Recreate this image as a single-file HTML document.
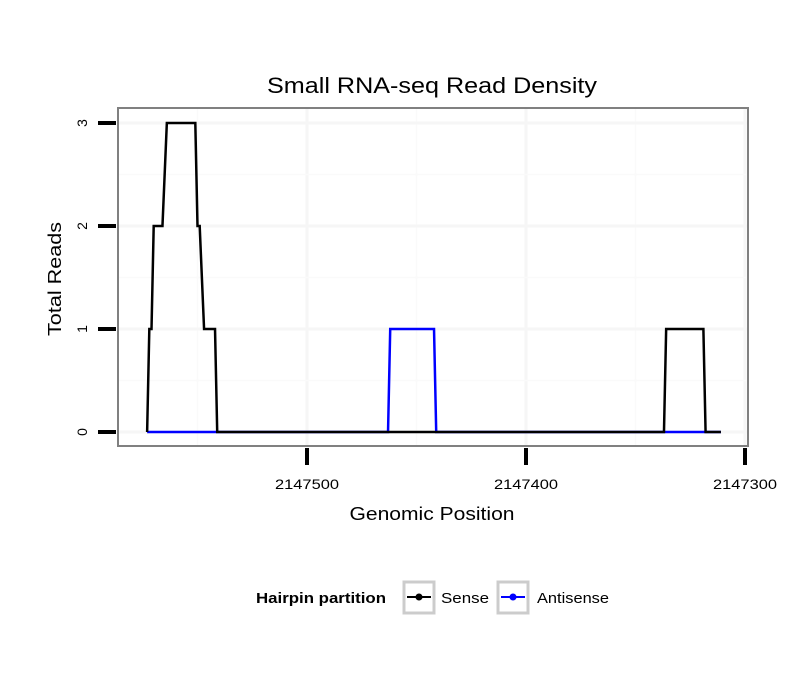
<!DOCTYPE html>
<html><head><meta charset="utf-8"><style>
body{margin:0;background:#fff;}
svg text{font-family:"Liberation Sans",sans-serif;}
</style></head><body>
<svg width="810" height="690" id="c">
<rect width="810" height="690" fill="#fff"/>
<text x="432" y="93" font-size="22" text-anchor="middle" textLength="330" lengthAdjust="spacingAndGlyphs">Small RNA-seq Read Density</text>
<g id="grid"></g>
<rect x="118" y="108" width="630" height="338" fill="none" stroke="#808080" stroke-width="2"/>
<g id="series"></g>
<g id="axes"></g>
<text x="432" y="520" font-size="18" text-anchor="middle" textLength="165" lengthAdjust="spacingAndGlyphs">Genomic Position</text>
<text transform="translate(61,279) rotate(-90)" font-size="18" text-anchor="middle" textLength="114" lengthAdjust="spacingAndGlyphs">Total Reads</text>
<g>
<text x="256" y="603" font-size="15" font-weight="bold" textLength="130" lengthAdjust="spacingAndGlyphs">Hairpin partition</text>
<g>
<rect x="404" y="582" width="30" height="31" fill="#fff" stroke="#ccc" stroke-width="3"/>
<line x1="407" y1="597" x2="431" y2="597" stroke="#000" stroke-width="2"/><circle cx="419" cy="597" r="3.5" fill="#000"/>
<text x="441" y="603" font-size="15" textLength="48" lengthAdjust="spacingAndGlyphs">Sense</text></g>
<g>
<rect x="498" y="582" width="30" height="31" fill="#fff" stroke="#ccc" stroke-width="3"/>
<line x1="501" y1="597" x2="525" y2="597" stroke="#00f" stroke-width="2"/><circle cx="513" cy="597" r="3.5" fill="#00f"/>
<text x="537" y="603" font-size="15" textLength="72" lengthAdjust="spacingAndGlyphs">Antisense</text></g>
</g>
</svg>
<script>
const senseX=[2147573,2147572,2147571,2147570,2147566,2147564,2147551,2147550,2147549,2147547,2147542,2147541,2147337,2147336,2147319,2147318,2147311];
const senseY=[0,1,1,2,2,3,3,2,2,1,1,0,0,1,1,0,0];
const antiX=[2147573,2147463,2147462,2147442,2147441,2147311];
const antiY=[0,0,1,1,0,0];
const xTicks=[2147500,2147400,2147300];
const yTicks=[0,1,2,3];
const sx=v=>307+(2147500-v)*2.19;
const sy=v=>432-v*103;
const NS="http://www.w3.org/2000/svg";
function mk(t,a,p){const e=document.createElementNS(NS,t);for(const k in a)e.setAttribute(k,a[k]);p.appendChild(e);return e;}
const grid=document.getElementById('grid'),axes=document.getElementById('axes'),series=document.getElementById('series');
[2147550,2147450,2147350].forEach(v=>{const l=mk('line',{x1:sx(v),x2:sx(v),y1:109,y2:445,stroke:'#fafafa','stroke-width':1.5},grid);

});
xTicks.forEach(v=>{const l=mk('line',{x1:sx(v),x2:sx(v),y1:109,y2:445,stroke:'#f6f6f6','stroke-width':3},grid);

});
[0.5,1.5,2.5].forEach(v=>{const l=mk('line',{x1:119,x2:747,y1:sy(v),y2:sy(v),stroke:'#fafafa','stroke-width':1.5},grid);

});
yTicks.forEach(v=>{const l=mk('line',{x1:119,x2:747,y1:sy(v),y2:sy(v),stroke:'#f6f6f6','stroke-width':3},grid);

});
const pa=mk('polyline',{points:antiX.map((x,i)=>sx(x)+','+sy(antiY[i])).join(' '),fill:'none',stroke:'#00f','stroke-width':2.5},series);


const ps=mk('polyline',{points:senseX.map((x,i)=>sx(x)+','+sy(senseY[i])).join(' '),fill:'none',stroke:'#000','stroke-width':2.5},series);


xTicks.forEach(v=>{const l=mk('line',{x1:sx(v),x2:sx(v),y1:448,y2:465,stroke:'#000','stroke-width':4},axes);


const t=mk('text',{x:sx(v),y:489,'font-size':14,'text-anchor':'middle',textLength:64,lengthAdjust:'spacingAndGlyphs'},axes);t.textContent=v;

});
yTicks.forEach(v=>{const l=mk('line',{x1:98,x2:116,y1:sy(v),y2:sy(v),stroke:'#000','stroke-width':4},axes);


const t=mk('text',{transform:`translate(87,${sy(v)}) rotate(-90)`,'font-size':14,'text-anchor':'middle'},axes);t.textContent=v;

});
</script>
</body></html>
